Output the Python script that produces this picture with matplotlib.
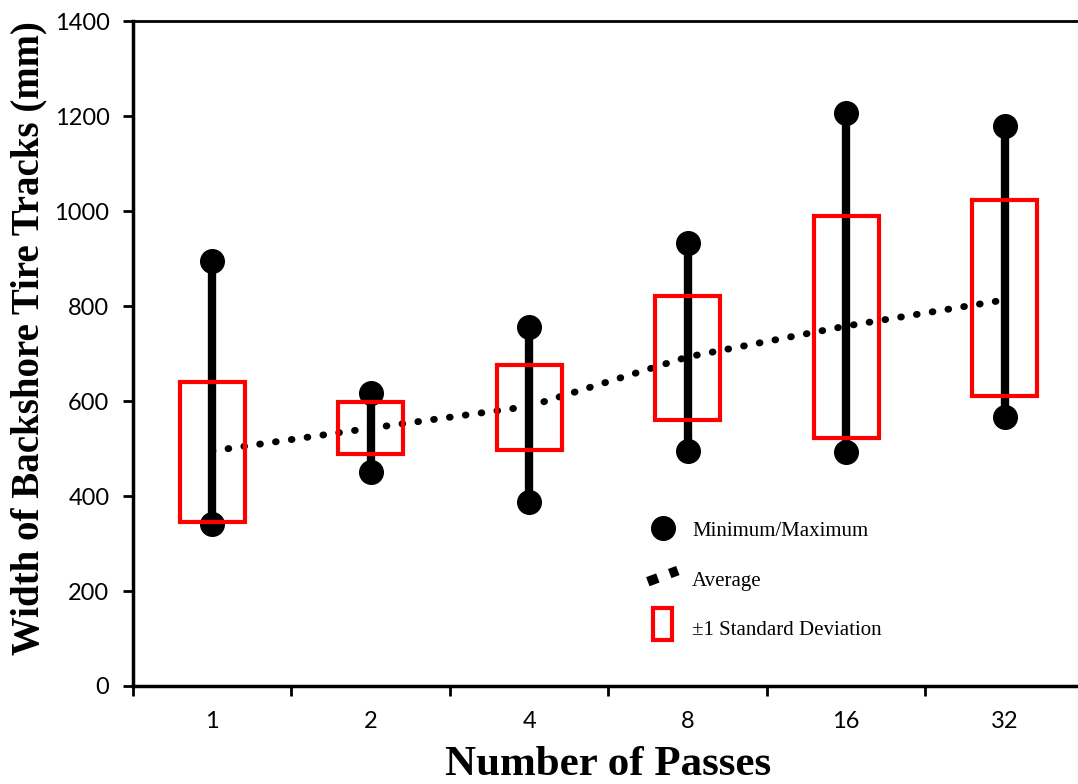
import matplotlib
matplotlib.use("Agg")
import matplotlib.pyplot as plt
from matplotlib.lines import Line2D
from matplotlib.patches import Rectangle
from matplotlib.legend_handler import HandlerBase

# values (mm)
passes = ["1", "2", "4", "8", "16", "32"]
width_min = [341, 450, 387, 495, 493, 566]
width_max = [895, 617, 756, 933, 1206, 1179]
width_avg = [495, 543, 589, 693, 758, 813]
sd_low = [345, 488, 497, 560, 522, 611]
sd_high = [640, 598, 676, 821, 989, 1023]


# Excel-like legend keys
class SlantDash(HandlerBase):
    def create_artists(self, legend, orig, xd, yd, w, h, fs, trans):
        ln = Line2D([xd + 0.05 * w, xd + 0.95 * w], [yd + 0.1 * h, yd + 0.7 * h],
                    color="black", lw=7, linestyle=(0, (1.1, 1.3)),
                    dash_capstyle="butt", transform=trans)
        return [ln]


class NarrowBox(HandlerBase):
    def create_artists(self, legend, orig, xd, yd, w, h, fs, trans):
        r = Rectangle((xd + 0.22 * w, yd - 0.35 * h), 0.56 * w, 1.7 * h, fill=False,
                      edgecolor="#ff0000", lw=3, transform=trans)
        return [r]


fig = plt.figure(figsize=(10.78, 7.84), dpi=100)
ax = fig.add_axes([0.1234, 0.125, 0.882, 0.848])

xs = list(range(len(passes)))

# min-max whiskers
ax.vlines(xs, width_min, width_max, color="black", lw=6, zorder=2)
ax.plot(xs, width_min, "o", color="black", ms=17, zorder=3)
ax.plot(xs, width_max, "o", color="black", ms=17, zorder=3)

# average trend
ax.plot(xs, width_avg, color="black", lw=5, linestyle=(0, (0.1, 2.2)),
        dash_capstyle="round", zorder=4)

# +-1 sd boxes
bw = 0.41
for x, lo, hi in zip(xs, sd_low, sd_high):
    ax.add_patch(Rectangle((x - bw / 2, lo), bw, hi - lo, fill=False,
                           edgecolor="#ff0000", lw=3, zorder=5))

ax.set_xlim(-0.5, len(passes) - 0.5)
ax.set_ylim(0, 1400)
ax.set_yticks(range(0, 1401, 200))
ax.set_xticks([x - 0.5 for x in range(len(passes) + 1)])
ax.set_xticklabels([])
ax.set_xticks(xs, minor=True)
ax.set_xticklabels(passes, minor=True)
ax.tick_params(axis="x", which="minor", length=0, pad=18)
ax.tick_params(axis="x", which="major", length=7, width=2, direction="out")
ax.tick_params(axis="y", length=7, width=2, direction="out", pad=10)
for lab in ax.get_yticklabels() + ax.get_xticklabels(minor=True):
    lab.set_fontfamily("Lato")
    lab.set_fontsize(17)

for s in ["left", "bottom"]:
    ax.spines[s].set_linewidth(2.5)
ax.spines["top"].set_linewidth(2)
ax.spines["right"].set_visible(False)

ax.set_xlabel("Number of Passes", fontfamily="Liberation Serif",
              fontweight="bold", fontsize=31)
ax.xaxis.set_label_coords(0.5, -0.091)
ax.set_ylabel("Width of Backshore Tire Tracks (mm)", fontfamily="Liberation Serif",
              fontweight="bold", fontsize=28)
ax.yaxis.set_label_coords(-0.09, 0.523)

avg_key = Line2D([], [])
sd_key = Rectangle((0, 0), 1, 1)
handles = [
    Line2D([], [], marker="o", color="black", ms=17, linestyle="none"),
    avg_key,
    sd_key,
]
labels = ["Minimum/Maximum", "Average", "\u00b11 Standard Deviation"]
ax.legend(handles, labels, loc="upper left", bbox_to_anchor=(0.582, 0.361),
          bbox_transform=fig.transFigure, frameon=False,
          prop={"family": "Liberation Serif", "size": 15},
          handler_map={avg_key: SlantDash(), sd_key: NarrowBox()},
          labelspacing=1.35, handlelength=1.6, handleheight=1.0, handletextpad=0.6)

fig.savefig("out.png", dpi=100)
